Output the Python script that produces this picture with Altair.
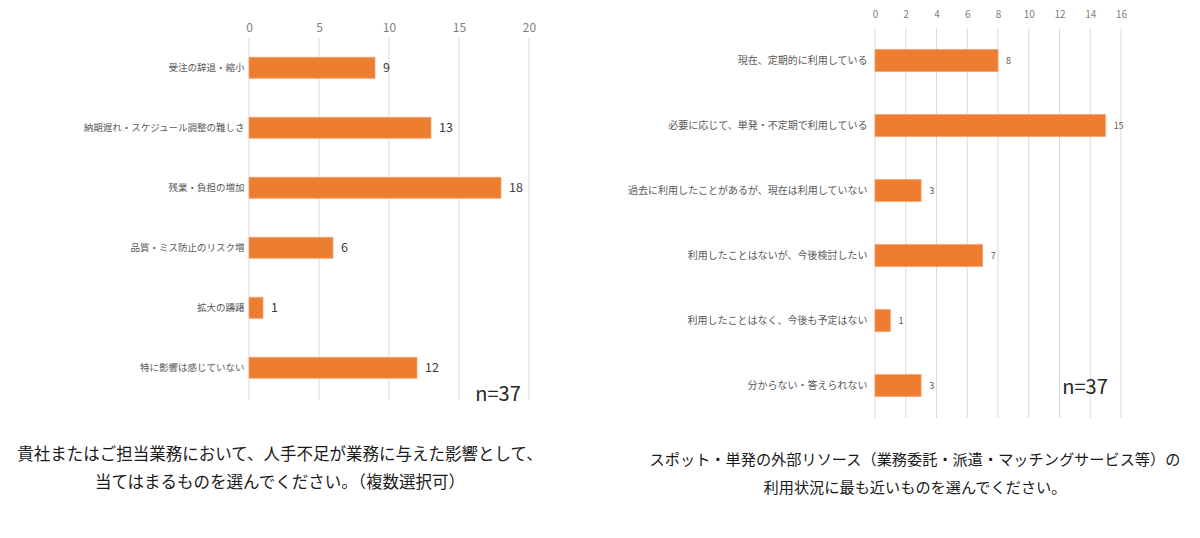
import altair as alt
import pandas as pd

FONT = "Noto Sans CJK JP"
BAR = "#ED7D31"

# Left panel: impact of staff shortage (multiple answers)
impact_items = [
    "受注の辞退・縮小",
    "納期遅れ・スケジュール調整の難しさ",
    "残業・負担の増加",
    "品質・ミス防止のリスク増",
    "拡大の躊躇",
    "特に影響は感じていない",
]
impact_counts = [9, 13, 18, 6, 1, 12]
impact_ticks = [0, 5, 10, 15, 20]
impact_caption = [
    "貴社またはご担当業務において、人手不足が業務に与えた影響として、",
    "当てはまるものを選んでください。（複数選択可）",
]

# Right panel: use of external resources
usage_items = [
    "現在、定期的に利用している",
    "必要に応じて、単発・不定期で利用している",
    "過去に利用したことがあるが、現在は利用していない",
    "利用したことはないが、今後検討したい",
    "利用したことはなく、今後も予定はない",
    "分からない・答えられない",
]
usage_counts = [8, 15, 3, 7, 1, 3]
usage_ticks = [0, 2, 4, 6, 8, 10, 12, 14, 16]
usage_caption = [
    "スポット・単発の外部リソース（業務委託・派遣・マッチングサービス等）の",
    "利用状況に最も近いものを選んでください。",
]

sample_note = "n=37"


def panel(items, counts, ticks, caption, width, height, *, y_extent,
          band_inner, band_outer, band_align, axis_offset, grid_top,
          label_size, label_pad, tick_size, tick_pad, value_size, value_color,
          n_pos, cap_x, cap_y, cap_gap, cap_size):
    df = pd.DataFrame({"item": items, "count": counts})
    x = alt.X(
        "count:Q",
        scale=alt.Scale(domain=[ticks[0], ticks[-1]], nice=False),
        axis=alt.Axis(
            orient="top", values=ticks, title=None, domain=False, ticks=False,
            grid=False, labelColor="#7f7f7f", labelFontSize=tick_size,
            labelFont=FONT, labelPadding=tick_pad, offset=axis_offset,
            labelOverlap=False, labelFlush=False, labelBound=False,
            minExtent=28, maxExtent=28,
        ),
    )
    y = alt.Y(
        "item:N", sort=items,
        scale=alt.Scale(paddingInner=band_inner, paddingOuter=band_outer,
                        align=band_align),
        axis=alt.Axis(
            title=None, domain=False, ticks=False, grid=False,
            labelColor="#595959", labelFontSize=label_size, labelFont=FONT,
            labelPadding=label_pad, labelLimit=400,
            minExtent=y_extent, maxExtent=y_extent,
        ),
    )

    # vertical gridlines at each tick value, behind the bars
    grid = alt.Chart(pd.DataFrame({"count": ticks})).mark_rule(
        color="#d9d9d9", strokeWidth=1
    ).encode(x=x, y=alt.value(grid_top), y2=alt.value(height))

    base = alt.Chart(df).encode(x=x, y=y)
    bars = base.mark_bar(color=BAR, stroke="#f4a46f", strokeWidth=0.8)
    vals = base.mark_text(
        align="left", dx=8, font=FONT, fontSize=value_size, color=value_color
    ).encode(text="count:Q")

    note = alt.Chart(pd.DataFrame({"t": [sample_note]})).mark_text(
        font=FONT, fontSize=20, color="#262626", align="center", baseline="middle"
    ).encode(text="t:N", x=alt.value(n_pos[0]), y=alt.value(n_pos[1]))

    cap_layers = []
    for i, line in enumerate(caption):
        cap_layers.append(
            alt.Chart(pd.DataFrame({"t": [line]})).mark_text(
                font=FONT, fontSize=cap_size, color="#1a1a1a",
                align="center", baseline="middle",
            ).encode(text="t:N", x=alt.value(cap_x),
                     y=alt.value(cap_y + i * cap_gap))
        )
    return alt.layer(grid, bars, vals, note, *cap_layers).properties(
        width=width, height=height
    )


left = panel(
    impact_items, impact_counts, impact_ticks, impact_caption, 280, 372,
    y_extent=249, band_inner=0.65, band_outer=0.425, band_align=0.575,
    axis_offset=-10, grid_top=10,
    label_size=9.5, label_pad=5, tick_size=12, tick_pad=4,
    value_size=12.5, value_color="#404040",
    n_pos=(249, 367), cap_x=31, cap_y=427, cap_gap=28, cap_size=16.5,
)
right = panel(
    usage_items, usage_counts, usage_ticks, usage_caption, 246, 390,
    y_extent=319, band_inner=0.66, band_outer=0.33, band_align=0.5,
    axis_offset=0, grid_top=0,
    label_size=10, label_pad=8, tick_size=10, tick_pad=9,
    value_size=9, value_color="#595959",
    n_pos=(210, 360), cap_x=40, cap_y=432, cap_gap=28, cap_size=15.2,
)

chart = (
    alt.hconcat(left, right, spacing=12)
    .properties(padding=0, background="white")
    .configure_view(stroke=None)
)

chart.save("out.html", embed_options={"renderer": "svg", "actions": False})
